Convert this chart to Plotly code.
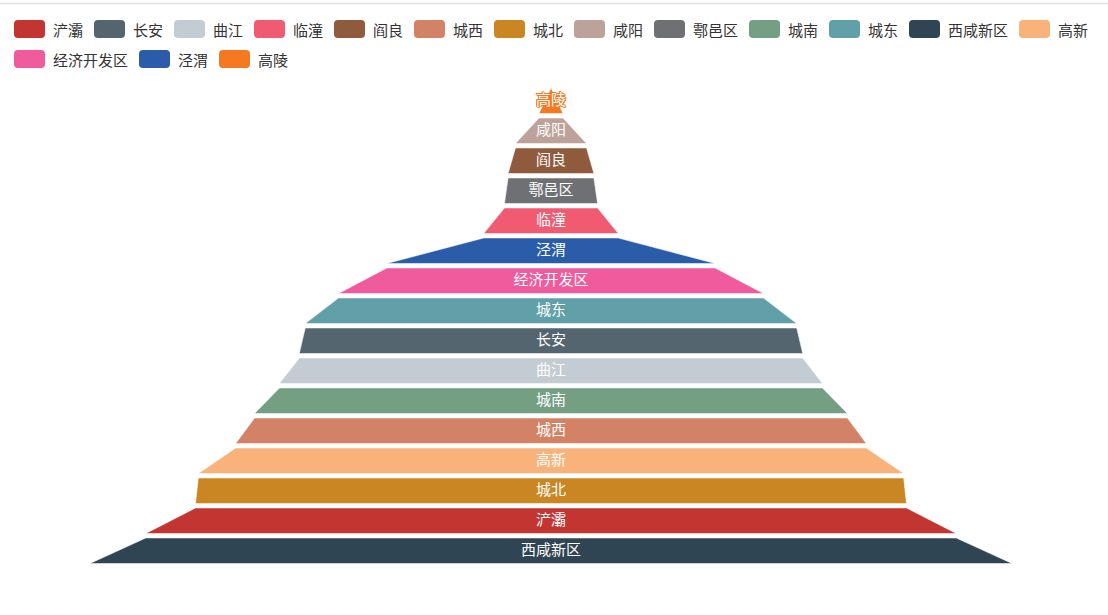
import plotly.graph_objects as go

# ---- data (legend / data order) ----
names = ["浐灞", "长安", "曲江", "临潼", "阎良", "城西", "城北", "咸阳",
         "鄠邑区", "城南", "城东", "西咸新区", "高新", "经济开发区", "泾渭", "高陵"]
values = [87.9, 54.6, 58.9, 14.6, 9.3, 68.4, 77.1, 7.7,
          10.1, 64.3, 53.3, 100, 76.5, 46.1, 35.6, 2.6]
colors = ["#c23531", "#546570", "#c4ccd3", "#f05b72", "#905a3d", "#d48265",
          "#ca8622", "#bda29a", "#6e7074", "#749f83", "#61a0a8", "#2f4554",
          "#fab27b", "#ef5b9c", "#2a5caa", "#f47920"]

W, H = 1108, 615
FONT = "Noto Sans CJK SC, Microsoft YaHei, sans-serif"

# funnel geometry (page pixel space)
CX, HALF = 551, 461
TOP, PITCH, PH = 88, 30, 25.5
vmax = max(values)

fig = go.Figure()

order = sorted(range(len(values)), key=lambda i: values[i])  # ascending: top -> bottom
prev_w = 0.0
for k, i in enumerate(order):
    w_bot = values[i] / vmax * HALF
    w_top = prev_w
    y0 = TOP + k * PITCH
    y1 = y0 + PH
    xs = [CX - w_top, CX + w_top, CX + w_bot, CX - w_bot, CX - w_top]
    ys = [y0, y0, y1, y1, y0]
    fig.add_trace(go.Scatter(
        x=xs, y=ys, mode="lines", fill="toself", fillcolor=colors[i],
        line=dict(color="white", width=0.5), name=names[i],
        hoveron="fills", hoverinfo="text", text=f"{names[i]}: {values[i]}",
        showlegend=False))
    prev_w = w_bot

for k, i in enumerate(order):
    y0 = TOP + k * PITCH
    c = colors[i]
    fig.add_trace(go.Scatter(
        x=[CX], y=[y0 + PH / 2], mode="text", text=[names[i]],
        textposition="middle center",
        textfont=dict(family=FONT, size=15, color="white",
                      shadow=f"1px 0 0 {c}, -1px 0 0 {c}, 0 1px 0 {c}, 0 -1px 0 {c}, 1px 1px 0 {c}, -1px -1px 0 {c}"),
        hoverinfo="skip", showlegend=False))

# ---- custom legend (ECharts style, rounded-rect icons) ----
shapes = [dict(type="line", xref="x", yref="y", x0=0, x1=W, y0=3.5, y1=3.5,
               line=dict(color="#e0e0e0", width=1.5), layer="below")]
annotations = []
x, row_y = 14, 29
IW, IH, R = 31, 18, 4
for i, n in enumerate(names):
    tw = 15 * len(n)
    item_w = IW + 6 + tw
    if x + item_w > W - 14:
        x = 14
        row_y += 30
    x0, x1 = x, x + IW
    y0, y1 = row_y - IH / 2, row_y + IH / 2
    path = (f"M{x0+R},{y0} L{x1-R},{y0} Q{x1},{y0} {x1},{y0+R} "
            f"L{x1},{y1-R} Q{x1},{y1} {x1-R},{y1} L{x0+R},{y1} "
            f"Q{x0},{y1} {x0},{y1-R} L{x0},{y0+R} Q{x0},{y0} {x0+R},{y0} Z")
    shapes.append(dict(type="path", xref="x", yref="y", path=path,
                       fillcolor=colors[i], line=dict(width=0)))
    annotations.append(dict(x=x + IW + 6, y=row_y, xref="x", yref="y",
                            text=n, showarrow=False, xanchor="left",
                            yanchor="middle",
                            font=dict(family=FONT, size=15, color="#333333")))
    x += item_w + 13

fig.update_layout(
    width=W, height=H,
    margin=dict(l=0, r=0, t=0, b=0),
    paper_bgcolor="white", plot_bgcolor="white",
    xaxis=dict(range=[0, W], visible=False, fixedrange=True),
    yaxis=dict(range=[H, 0], visible=False, fixedrange=True),
    shapes=shapes, annotations=annotations,
    showlegend=False,
)

fig.write_html("out.html", config={"displayModeBar": False},
               post_script="document.body.style.margin='0';document.body.style.overflow='hidden';")
